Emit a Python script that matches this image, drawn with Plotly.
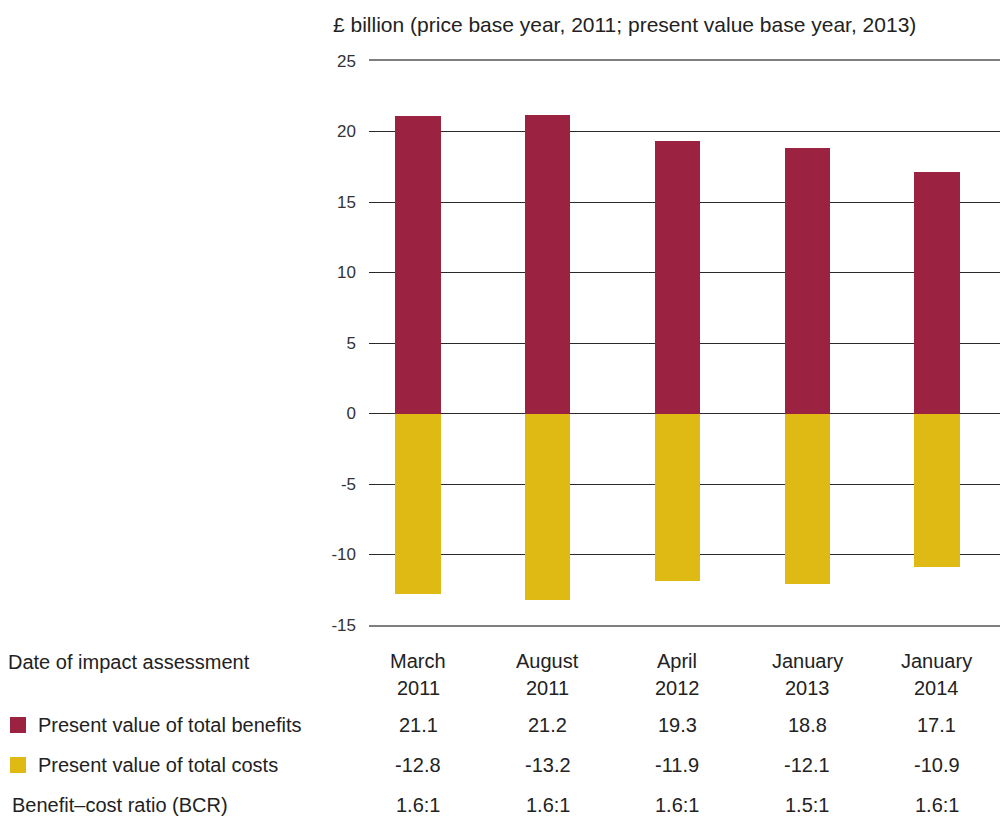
import plotly.graph_objects as go

# Impact assessment dates (month, year) and present values in £ billion
months = ["March", "August", "April", "January", "January"]
years = ["2011", "2011", "2012", "2013", "2014"]
benefits = [21.1, 21.2, 19.3, 18.8, 17.1]
costs = [-12.8, -13.2, -11.9, -12.1, -10.9]
bcr = ["1.6:1", "1.6:1", "1.6:1", "1.5:1", "1.6:1"]
y_ticks = [25, 20, 15, 10, 5, 0, -5, -10, -15]

BENEFIT_COLOR = "#9B2240"
COST_COLOR = "#DFBA14"
TEXT = "#222222"
FONT = "Liberation Sans"
TABLE_SIZE = 20

xpos = list(range(len(months)))

fig = go.Figure()
fig.add_trace(go.Bar(x=xpos, y=benefits, marker_color=BENEFIT_COLOR,
                     marker_line_width=0, width=0.35,
                     name="Present value of total benefits"))
fig.add_trace(go.Bar(x=xpos, y=costs, marker_color=COST_COLOR,
                     marker_line_width=0, width=0.35,
                     name="Present value of total costs"))

annotations = []

# Axis title above the plot
annotations.append(dict(
    text="£ billion (price base year, 2011; present value base year, 2013)",
    xref="paper", yref="paper", x=0, y=1, xshift=-38, yshift=37,
    xanchor="left", yanchor="middle", showarrow=False,
    font=dict(size=21, color=TEXT)))

# Table beneath the chart: row labels
row_labels = [
    ("Date of impact assessment", -363, -37),
    ("Present value of total benefits", -333, -100),
    ("Present value of total costs", -333, -140),
    ("Benefit\u2013cost ratio (BCR)", -359, -180),
]
for txt, xs, ys in row_labels:
    annotations.append(dict(text=txt, xref="paper", yref="paper", x=0, y=0,
                            xshift=xs, yshift=ys, xanchor="left",
                            yanchor="middle", showarrow=False,
                            font=dict(size=TABLE_SIZE, color=TEXT)))

# Table beneath the chart: one column per assessment
for i in xpos:
    cells = [
        (months[i], -36),
        (years[i], -63),
        (f"{benefits[i]:.1f}", -100),
        (f"{costs[i]:.1f}", -140),
        (bcr[i], -180),
    ]
    for txt, ys in cells:
        annotations.append(dict(text=txt, xref="x", yref="paper", x=i, y=0,
                                yshift=ys, xanchor="center", yanchor="middle",
                                showarrow=False,
                                font=dict(size=TABLE_SIZE, color=TEXT)))

# Legend swatches in the table
shapes = []
for color, yc in [(BENEFIT_COLOR, -100), (COST_COLOR, -140)]:
    shapes.append(dict(type="rect", xref="paper", yref="paper",
                       xsizemode="pixel", ysizemode="pixel",
                       xanchor=0, yanchor=0,
                       x0=-359, x1=-343, y0=yc - 8, y1=yc + 8,
                       fillcolor=color, line_width=0))

fig.update_layout(
    width=1000, height=816,
    margin=dict(l=369, r=0, t=61, b=191),
    paper_bgcolor="white", plot_bgcolor="white",
    barmode="relative", bargap=0,
    showlegend=False,
    font=dict(family=FONT, size=TABLE_SIZE, color=TEXT),
    annotations=annotations,
    shapes=shapes,
)
# Top and bottom frame lines at 25 and -15 come from the mirrored x axis line
fig.update_xaxes(range=[-0.378, 4.486], showticklabels=False, showgrid=False,
                 zeroline=False, showline=True, mirror=True,
                 linecolor="#7f7f7f", linewidth=2, ticks="", fixedrange=True)
fig.update_yaxes(range=[-15, 25], tickvals=y_ticks,
                 ticktext=[str(v) for v in y_ticks],
                 showgrid=True, gridcolor="#2a2a2a", gridwidth=1,
                 zeroline=False, showline=False, ticks="",
                 ticklabelstandoff=12,
                 tickfont=dict(size=17, color="#333333"))

fig.write_html("out.html")
